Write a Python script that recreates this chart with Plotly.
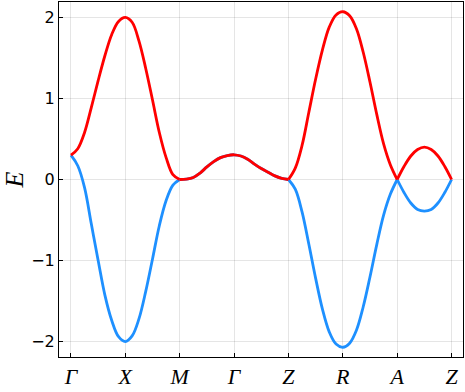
import plotly.graph_objects as go

# high-symmetry path, 8 samples per segment
k_labels = ["Γ", "X", "M", "Γ", "Z", "R", "A", "Z"]
k_ticks = [0, 1, 2, 3, 4, 5, 6, 7]
k = [i * 0.125 for i in range(57)]

upper = [
    0.30, 0.38, 0.58, 0.89, 1.22, 1.53, 1.79, 1.95, 2.00,   # Γ-X
    1.94, 1.71, 1.37, 0.98, 0.58, 0.27, 0.06, 0.00,         # X-M
    0.005, 0.025, 0.08, 0.155, 0.22, 0.27, 0.295, 0.305,    # M-Γ
    0.29, 0.25, 0.19, 0.135, 0.09, 0.045, 0.015, 0.00,      # Γ-Z
    0.14, 0.42, 0.83, 1.24, 1.60, 1.88, 2.03, 2.07,         # Z-R
    2.02, 1.86, 1.57, 1.20, 0.80, 0.44, 0.18, 0.00,         # R-A
    0.16, 0.29, 0.37, 0.40, 0.37, 0.29, 0.16, 0.00,         # A-Z
]
lower = [
    0.30, 0.17, -0.10, -0.55, -1.00, -1.43, -1.74, -1.94, -2.00,
    -1.93, -1.72, -1.38, -0.98, -0.57, -0.26, -0.07, 0.00,
    0.005, 0.025, 0.08, 0.155, 0.22, 0.27, 0.295, 0.305,
    0.29, 0.25, 0.19, 0.135, 0.09, 0.045, 0.015, 0.00,
    -0.12, -0.40, -0.80, -1.22, -1.60, -1.88, -2.03, -2.07,
    -2.02, -1.86, -1.57, -1.20, -0.80, -0.44, -0.18, 0.00,
    -0.16, -0.29, -0.37, -0.39, -0.37, -0.29, -0.16, 0.00,
]

# split where the bands have kinks (M, Z, A) so the spline stays sharp there
breaks = [(0, 16), (16, 32), (32, 48), (48, 56)]

fig = go.Figure()
for band, color in [(lower, "#1e90ff"), (upper, "#ff0000")]:
    for a, b in breaks:
        fig.add_trace(go.Scatter(
            x=k[a:b + 1], y=band[a:b + 1],
            mode="lines", line=dict(color=color, width=2.8, shape="spline", smoothing=1.0),
            showlegend=False, hoverinfo="skip"
        ))

axis_common = dict(
    showline=True, mirror=True, linecolor="black", linewidth=1,
    showgrid=True, gridcolor="rgba(0,0,0,0.1)", gridwidth=1,
    zeroline=False, ticks="inside", ticklen=4, tickcolor="black",
)

fig.update_layout(
    width=465, height=392,
    margin=dict(l=57, r=1, t=2, b=35),
    plot_bgcolor="white", paper_bgcolor="white",
    xaxis=dict(
        range=[-0.22, 7.21],
        tickvals=k_ticks,
        ticktext=[f"<i>{s}</i>" for s in k_labels],
        tickfont=dict(family="Liberation Serif", size=22, color="black"),
        **axis_common
    ),
    yaxis=dict(
        range=[-2.19, 2.19],
        tickvals=[-2, -1, 0, 1, 2],
        ticktext=["−2", "−1", "0", "1", "2"],
        tickfont=dict(family="DejaVu Sans", size=16, color="black"),
        title=dict(text="<i>E</i>", font=dict(family="Liberation Serif", size=26, color="black"), standoff=12),
        **axis_common
    ),
)

fig.write_html("out.html", config={"displayModeBar": False},
               post_script="document.body.style.margin='0';")
